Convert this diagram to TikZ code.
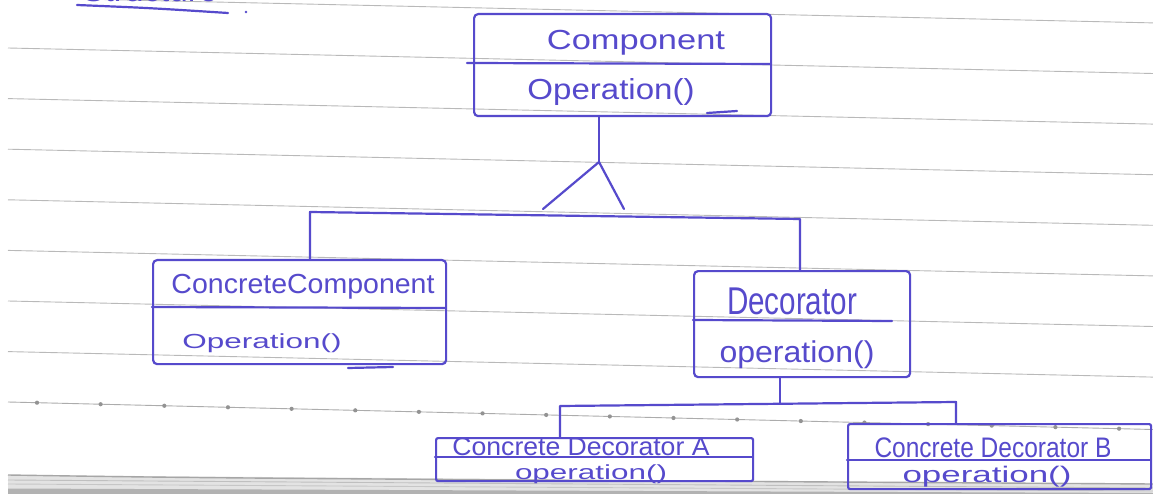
\documentclass[tikz,border=0pt]{standalone}
\usepackage{fontspec}
\setmainfont{Liberation Sans}
\usepackage{graphicx}
\definecolor{ink}{RGB}{86,74,204}
% stretch a piece of text to a given width and total height (in pt)
\newcommand{\handtext}[3]{\resizebox*{#1pt}{#2pt}{#3}}

\begin{document}
\begin{tikzpicture}[x=1pt,y=-1pt,
  pen/.style={draw=ink, line width=2.2pt, line cap=round, line join=round},
  classbox/.style={pen, rounded corners=4pt, anchor=north west, inner sep=0pt},
  handlabel/.style={text=ink, inner sep=0pt},
  rule/.style={draw=gray!55, line width=0.9pt},
  ruledot/.style={fill=gray!85, draw=none},
]
\useasboundingbox (0,0) rectangle (1153,494);
\clip (0,0) rectangle (1153,494);
\fill[white] (0,0) rectangle (1153,494);

% ruled notebook lines
\foreach \k in {-1,...,6}{
  \pgfmathsetmacro{\yl}{48+50.6*\k}
  \pgfmathsetmacro{\yr}{\yl+25.5}
  \draw[rule] (8,\yl) -- (1153,\yr);
}
% dotted ruled line
\draw[rule, draw=gray!65] (8,402) -- (1153,429.5);
\foreach \i in {0,...,17}{
  \pgfmathsetmacro{\dx}{37+63.65*\i}
  \pgfmathsetmacro{\dy}{402+(\dx-8)*0.024017}
  \fill[ruledot] (\dx,\dy) circle (2.1);
}

% stacked page edges at the bottom
\fill[gray!22] (8,475) -- (1153,484) -- (1153,494) -- (8,494) -- cycle;
\draw[gray!70, line width=1.4pt] (8,475) .. controls (200,478) .. (1153,484);
\draw[gray!50, line width=0.9pt] (8,480) -- (1153,488);
\draw[gray!45, line width=0.9pt] (8,484) -- (1153,491);
\fill[gray!60] (8,488.5) -- (1153,493) -- (1153,494) -- (8,494) -- cycle;

% heading, cut off by the top edge
\node[handlabel, anchor=base] (heading) at (150,2) {\handtext{135}{24}{Structure}};
\draw[pen] (77,5) .. controls (150,8) .. (228,13);
\fill[ink] (246,12) circle (1.3);

% class boxes
\node[classbox, minimum width=297pt, minimum height=102pt] (comp) at (473,13) {};
\draw[pen] (467,63) -- (770,64);
\node[handlabel] (comp-name) at (636,43) {\handtext{178}{25}{Component}};
\node[handlabel] (comp-op) at (611,92) {\handtext{167}{27}{Operation()}};
\draw[pen] (707,113) -- (737,111);

\node[classbox, minimum width=293pt, minimum height=104pt] (cc) at (152,259) {};
\draw[pen] (152,307) -- (445,308);
\node[handlabel] (cc-name) at (303,287) {\handtext{263}{25}{ConcreteComponent}};
\node[handlabel] (cc-op) at (262,343) {\handtext{159}{19}{Operation()}};
\draw[pen] (348,368) -- (393,367);

\node[classbox, minimum width=216pt, minimum height=106pt] (dec) at (693,270) {};
\draw[pen] (693,320) -- (892,321);
\node[handlabel] (dec-name) at (792,301) {\handtext{130}{27}{Decorator}};
\node[handlabel] (dec-op) at (797,355) {\handtext{155}{28}{operation()}};

\node[classbox, rounded corners=2pt, minimum width=317pt, minimum height=43pt] (cda) at (435,437) {};
\draw[pen] (435,457) -- (752,457);
\node[handlabel] (cda-name) at (581,447) {\handtext{257}{18}{Concrete Decorator A}};
\node[handlabel] (cda-op) at (591,474) {\handtext{152}{19}{operation()}};

\node[classbox, rounded corners=2pt, minimum width=303pt, minimum height=65pt] (cdb) at (847,423) {};
\draw[pen] (847,460) -- (1150,460);
\node[handlabel] (cdb-name) at (993,448) {\handtext{237}{20}{Concrete Decorator B}};
\node[handlabel] (cdb-op) at (987,477) {\handtext{169}{21}{operation()}};

% inheritance: Component <- {ConcreteComponent, Decorator}
\coordinate (apex) at (599,162);
\coordinate (legL) at (543,209);
\coordinate (legR) at (624,209);
\coordinate (barL) at (310,212);
\coordinate (barR) at (800,219);
\draw[pen] (comp.south -| apex) -- (apex);
\draw[pen] (legL) -- (apex) -- (legR);
\draw[pen] (cc.north -| barL) -- (barL) -- (barR) -- (dec.north -| barR);

% Decorator <- {Concrete Decorator A, Concrete Decorator B}
\coordinate (knot) at (780,403);
\coordinate (bar2L) at (560,406);
\coordinate (bar2R) at (956,402);
\draw[pen] (dec.south -| knot) -- (knot);
\draw[pen] (cda.north -| bar2L) -- (bar2L) -- (bar2R) -- (cdb.north -| bar2R);
\end{tikzpicture}
\end{document}
